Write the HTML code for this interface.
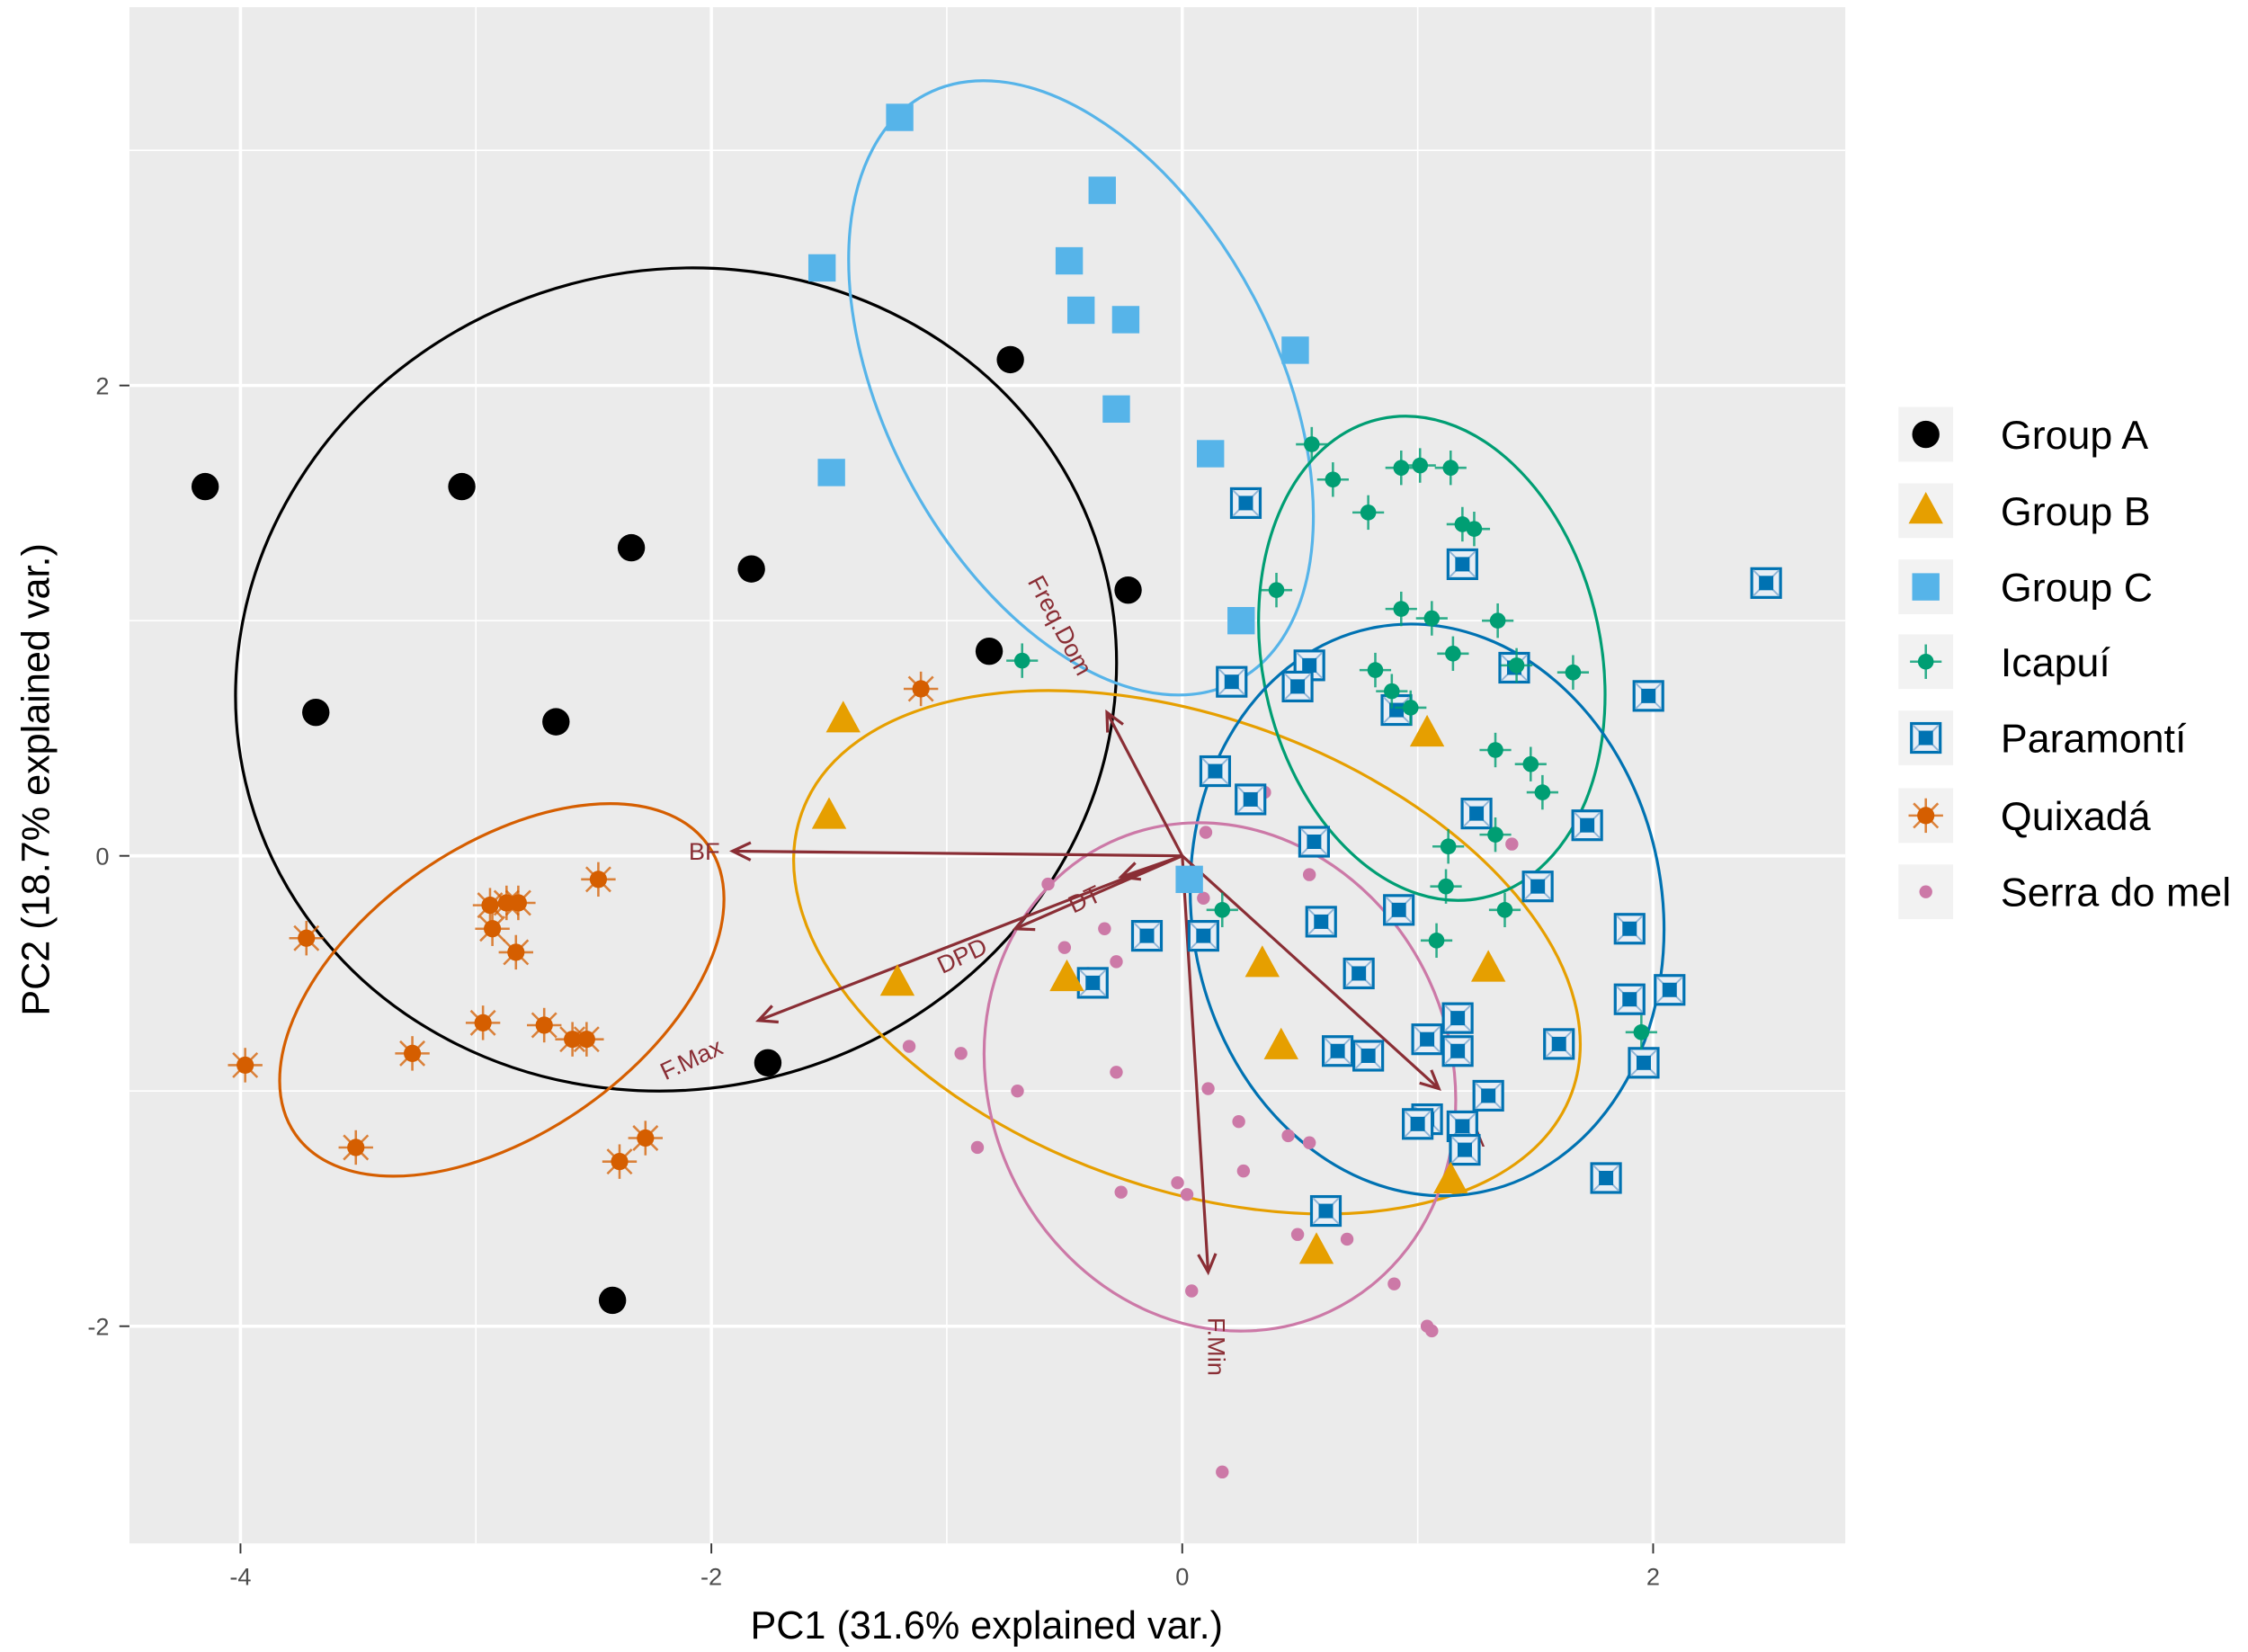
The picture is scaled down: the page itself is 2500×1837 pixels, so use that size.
<!DOCTYPE html>
<html><head><meta charset="utf-8"><style>
html,body{margin:0;padding:0;background:#fff;}
svg{display:block;}
text{font-family:"Liberation Sans",sans-serif;}
</style></head><body>
<svg id="chart" xmlns="http://www.w3.org/2000/svg" width="2500" height="1837" viewBox="0 0 1563 1148.5">
<rect x="90" y="5" width="1193" height="1068" fill="#ebebeb"/>
<g id="grid"></g>
<g id="ellipses"></g>
<g id="arrows"></g>
<g id="points"></g>
<g id="axes"></g>
<text x="686" y="1139" font-size="27" text-anchor="middle" fill="#000">PC1 (31.6% explained var.)</text>
<text transform="translate(34,542) rotate(-90)" font-size="27" text-anchor="middle" fill="#000">PC2 (18.7% explained var.)</text>
<g id="legend"></g>
</svg>
<script>
const xTicks=[-4,-2,0,2];
const yTicks=[-2,0,2];
const xMinor=[-3,-1,1];
const yMinor=[-1,1,3];
const groupNames=["Group A","Group B","Group C","Icapuí","Paramontí","Quixadá","Serra do mel"];
const groupColors=["#000000","#e69f00","#56b4e9","#009e73","#0072b2","#d55e00","#cc79a7"];
const groupAx=[-4.15,-3.06,-2.34,-1.83,-3.68,-2.66,-0.73,-0.23,-0.82,-1.76,-2.42];
const groupAy=[1.57,1.57,1.31,1.22,0.61,0.57,2.11,1.13,0.87,-0.88,-1.89];
const groupBx=[-1.44,-1.50,-1.21,-0.49,0.34,0.42,1.04,1.30,1.14,0.57];
const groupBy=[0.58,0.17,-0.54,-0.52,-0.46,-0.81,0.52,-0.48,-1.38,-1.68];
const groupCx=[-1.20,-0.34,-0.48,-1.53,-0.43,-0.24,0.48,-0.28,-1.49,0.12,0.25,0.03];
const groupCy=[3.14,2.83,2.53,2.50,2.32,2.28,2.15,1.90,1.63,1.71,1.00,-0.10];
const icapuiX=[0.55,0.64,0.79,0.93,1.01,1.14,1.19,1.24,0.40,0.93,1.06,1.34,1.15,0.82,0.89,0.97,1.42,1.66,1.33,1.48,1.53,1.33,1.13,1.12,1.37,1.08,0.17,-0.68,1.95];
const icapuiY=[1.75,1.60,1.46,1.65,1.66,1.65,1.41,1.39,1.13,1.05,1.01,1.00,0.86,0.79,0.70,0.63,0.81,0.78,0.45,0.39,0.27,0.09,0.04,-0.13,-0.23,-0.36,-0.23,0.83,-0.75];
const paraX=[0.27,1.19,2.48,0.21,0.54,0.49,0.91,1.41,1.98,0.14,0.29,1.25,1.72,0.56,1.51,0.59,0.92,-0.15,0.09,1.90,0.75,-0.38,1.90,2.07,1.17,1.04,1.17,0.66,0.79,1.60,1.96,1.30,1.04,1.00,1.19,1.20,1.80,0.61];
const paraY=[1.50,1.24,1.16,0.74,0.81,0.72,0.62,0.80,0.68,0.36,0.24,0.18,0.13,0.06,-0.13,-0.28,-0.23,-0.34,-0.34,-0.31,-0.50,-0.54,-0.61,-0.57,-0.69,-0.78,-0.83,-0.83,-0.85,-0.80,-0.88,-1.02,-1.12,-1.14,-1.15,-1.25,-1.37,-1.51];
const quixX=[-1.11,-2.48,-3.72,-2.94,-2.87,-2.82,-2.93,-2.83,-2.97,-2.71,-2.59,-2.53,-3.27,-3.98,-2.28,-2.39,-3.51];
const quixY=[0.71,-0.10,-0.35,-0.21,-0.20,-0.20,-0.31,-0.41,-0.71,-0.72,-0.78,-0.78,-0.84,-0.89,-1.20,-1.30,-1.24];
const serraX=[0.10,0.35,0.54,-0.57,-0.33,-0.28,-0.50,-0.40,-1.16,-0.94,-0.28,-0.70,0.11,0.24,0.45,0.54,-0.26,-0.02,0.02,0.26,0.70,0.49,-0.87,0.04,0.90,1.04,1.06,1.40,0.17,2.05,0.09];
const serraY=[0.10,0.27,-0.08,-0.12,-0.31,-0.45,-0.39,-0.50,-0.81,-0.84,-0.92,-1.00,-0.99,-1.13,-1.19,-1.22,-1.43,-1.39,-1.44,-1.34,-1.63,-1.61,-1.24,-1.85,-1.82,-2.00,-2.02,0.05,-2.62,-0.58,-0.18];
// ellipses per group (data units), angle in screen degrees
const ellCx=[-2.15,0.02,-0.43,1.06,1.04,-2.89,0.16];
const ellCy=[0.75,-0.41,1.99,0.84,-0.23,-0.57,-0.94];
const ellA=[1.88,1.74,1.41,1.04,1.22,1.07,1.10];
const ellB=[1.74,1.00,0.83,0.72,1.00,0.61,0.98];
const ellAng=[-15,20,62,78,80,-35,65];
// loading arrows
const arrowNames=["Freq.Dom","BF","DT","DPD","F.Max","F.Min","A"];
const arrowX=[-0.32,-1.91,-0.26,-0.71,-1.80,0.11,1.09];
const arrowY=[0.61,0.02,-0.09,-0.31,-0.70,-1.77,-0.99];

const NS="http://www.w3.org/2000/svg";
const X0=822,KX=163.7,Y0=595,KY=163.5;
function sx(v){return X0+v*KX;}
function sy(v){return Y0-v*KY;}
function mk(tag,attrs,parent){const e=document.createElementNS(NS,tag);for(const k in attrs)e.setAttribute(k,attrs[k]);parent.appendChild(e);return e;}
const grid=document.getElementById('grid');
xMinor.forEach(v=>{const l=mk('line',{x1:sx(v),x2:sx(v),y1:5,y2:1073,stroke:'#fff','stroke-width':1},grid);

});
yMinor.forEach(v=>{const l=mk('line',{x1:90,x2:1283,y1:sy(v),y2:sy(v),stroke:'#fff','stroke-width':1},grid);

});
const axes=document.getElementById('axes');
xTicks.forEach(v=>{const l=mk('line',{x1:sx(v),x2:sx(v),y1:5,y2:1073,stroke:'#fff','stroke-width':2.2},grid);


const t=mk('line',{x1:sx(v),x2:sx(v),y1:1073,y2:1080,stroke:'#333','stroke-width':1.2},axes);


const tx=mk('text',{x:sx(v),y:1102,'font-size':17,'text-anchor':'middle',fill:'#4d4d4d'},axes);tx.textContent=String(v);

});
yTicks.forEach(v=>{const l=mk('line',{x1:90,x2:1283,y1:sy(v),y2:sy(v),stroke:'#fff','stroke-width':2.2},grid);


const t=mk('line',{x1:83,x2:90,y1:sy(v),y2:sy(v),stroke:'#333','stroke-width':1.2},axes);


const tx=mk('text',{x:76,y:sy(v)+6,'font-size':17,'text-anchor':'end',fill:'#4d4d4d'},axes);tx.textContent=String(v);

});
const eg=document.getElementById('ellipses');
for(let i=0;i<ellCx.length;i++){
 const e=mk('ellipse',{cx:sx(ellCx[i]),cy:sy(ellCy[i]),rx:ellA[i]*KX,ry:ellB[i]*KY,fill:'none',stroke:groupColors[i],'stroke-width':2,transform:`rotate(${ellAng[i]} ${sx(ellCx[i])} ${sy(ellCy[i])})`},eg);
 
 
}
const ag=document.getElementById('arrows');
const AC='#8a2e35';
const labPos=[[-0.55,1.0,62],[-2.03,0.02,0],[-0.4,-0.18,-25],[-0.92,-0.42,-25],[-2.07,-0.86,-25],[0.11,-2.05,90],[1.25,-1.2,0]];
for(let i=0;i<arrowX.length;i++){
 const x2=sx(arrowX[i]),y2=sy(arrowY[i]);
 const a=mk('line',{x1:X0,y1:Y0,x2:x2,y2:y2,stroke:AC,'stroke-width':2},ag);
 
 
 const ang=Math.atan2(y2-Y0,x2-X0);
 const h=mk('path',{d:`M${x2-14*Math.cos(ang-0.45)},${y2-14*Math.sin(ang-0.45)}L${x2},${y2}L${x2-14*Math.cos(ang+0.45)},${y2-14*Math.sin(ang+0.45)}`,fill:'none',stroke:AC,'stroke-width':2},ag);
 
 
 const lp=labPos[i];
 const t=mk('text',{x:0,y:0,'font-size':17,'text-anchor':'middle',fill:AC,transform:`translate(${sx(lp[0])},${sy(lp[1])+6}) rotate(${lp[2]})`},ag);
 t.textContent=arrowNames[i];
 
 
}
const pg=document.getElementById('points');
function marker(type,x,y,g){
 const c=groupColors;
 if(type===0){mk('circle',{cx:x,cy:y,r:9.5,fill:c[0]},g);}
 else if(type===1){mk('path',{d:`M${x},${y-13}L${x+12},${y+9}L${x-12},${y+9}Z`,fill:c[1]},g);}
 else if(type===2){mk('rect',{x:x-9.5,y:y-9.5,width:19,height:19,fill:c[2]},g);}
 else if(type===3){mk('line',{x1:x-11,x2:x+11,y1:y,y2:y,stroke:c[3],'stroke-width':1.6,opacity:0.8},g);mk('line',{x1:x,x2:x,y1:y-12,y2:y+12,stroke:c[3],'stroke-width':1.6,opacity:0.8},g);mk('circle',{cx:x,cy:y,r:5.5,fill:c[3]},g);}
 else if(type===4){mk('rect',{x:x-10,y:y-10,width:20,height:20,fill:'#e8eef5',stroke:c[4],'stroke-width':2},g);mk('path',{d:`M${x-9},${y-9}L${x+9},${y+9}M${x+9},${y-9}L${x-9},${y+9}`,stroke:'#8fb4d6','stroke-width':1.2},g);mk('rect',{x:x-5,y:y-5,width:10,height:10,fill:c[4]},g);}
 else if(type===5){for(let k=0;k<4;k++){const a=k*Math.PI/4;mk('line',{x1:x-12*Math.cos(a),y1:y-12*Math.sin(a),x2:x+12*Math.cos(a),y2:y+12*Math.sin(a),stroke:c[5],'stroke-width':1.6,opacity:0.75},g);}mk('circle',{cx:x,cy:y,r:6,fill:c[5]},g);}
 else {mk('circle',{cx:x,cy:y,r:4.5,fill:c[6]},g);}
}
const sets=[[groupAx,groupAy],[groupBx,groupBy],[groupCx,groupCy],[icapuiX,icapuiY],[paraX,paraY],[quixX,quixY],[serraX,serraY]];
const drawOrder=[6,4,3,5,2,1,0];
drawOrder.forEach(gi=>{
 const xs=sets[gi][0],ys=sets[gi][1];
 for(let j=0;j<xs.length;j++){
  const g=mk('g',{},pg);
  
  
  marker(gi,sx(xs[j]),sy(ys[j]),g);
 }
});
const lg=document.getElementById('legend');
const legY=[302,355,408,460,513,567,620];
for(let i=0;i<groupNames.length;i++){
 const g=mk('g',{},lg);
 
 
 mk('rect',{x:1320,y:legY[i]-19,width:38,height:38,fill:'#f2f2f2'},g);
 marker(i,1339,legY[i],g);
 const t=mk('text',{x:1391,y:legY[i]+10,'font-size':28,fill:'#000'},g);t.textContent=groupNames[i];
}
</script>
</body></html>
